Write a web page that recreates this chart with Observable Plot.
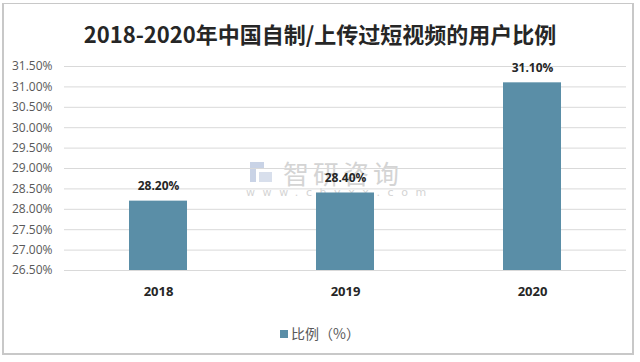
<!DOCTYPE html>
<html>
<head>
<meta charset="utf-8">
<script src="https://cdn.jsdelivr.net/npm/d3@7"></script>
<script src="https://cdn.jsdelivr.net/npm/@observablehq/plot@0.6"></script>
<style>
  body { margin: 0; background: #fff; }
  #wrap { position: relative; width: 640px; height: 362px; overflow: hidden; font-family: "Noto Sans CJK SC", "Noto Sans", sans-serif; }
  #border { position: absolute; left: 2px; top: 3px; width: 632px; height: 352px; border: 2px solid #c8c8c8; box-sizing: border-box; border-width: 1px 2px 2px 2px; }
  #title { position: absolute; left: 0; top: 16px; width: 640px; text-align: center; font-size: 22px; font-weight: bold; color: #262626; line-height: 34px; }
  #chart { position: absolute; left: 0; top: 50px; z-index: 2; }
  #legend { position: absolute; left: 0; top: 322px; width: 640px; text-align: center; font-size: 14px; color: #595959; line-height: 22px; }
  #legend .sw { display: inline-block; width: 8px; height: 8px; background: #5a8ea7; margin-right: 3px; vertical-align: 1px; }
  #wm1 { position: absolute; left: 283px; top: 154px; font-size: 26px; color: #d4d4d4; letter-spacing: 4px; font-family: "Noto Sans CJK SC"; z-index: 1; }
  #wm2 { position: absolute; left: 246px; top: 186px; font-size: 11px; color: #d4d4d4; letter-spacing: 7.6px; font-family: "DejaVu Sans"; z-index: 1; }
  #wmicon { position: absolute; left: 248px; top: 160px; width: 26px; height: 24px; z-index: 1; }
</style>
</head>
<body>
<div id="wrap">
  <div id="border"></div>
  <div id="title">2018-2020年中国自制/上传过短视频的用户比例</div>
  <div id="wm1">智研咨询</div>
  <div id="wm2">www.chyxx.com</div>
  <div id="chart"></div>
  <div id="legend"><span class="sw"></span>比例（%）</div>
</div>
<script>
const years = ["2018", "2019", "2020"];
const values = [28.2, 28.4, 31.1];
const yTicks = [26.5, 27, 27.5, 28, 28.5, 29, 29.5, 30, 30.5, 31, 31.5];
const yMin = 26.5;
const yMax = 31.5;

const data = years.map((y, i) => ({year: y, value: values[i]}));
const fmt = d => d.toFixed(2) + "%";

const chart = Plot.plot({
  width: 640,
  height: 265,
  marginTop: 16,
  marginBottom: 45,
  marginLeft: 64,
  marginRight: 14,
  style: {fontFamily: "'Open Sans', 'Noto Sans', sans-serif", background: "transparent"},
  x: {domain: years, paddingInner: 0.69, paddingOuter: 0.34, label: null},
  y: {domain: [yMin, yMax], label: null},
  marks: [
    Plot.ruleY(yTicks, {stroke: "#d9d9d9", strokeWidth: 1}),
    Plot.barY(data, {x: "year", y1: () => yMin, y2: "value", fill: "#5a8ea7"}),
    Plot.text(data, {x: "year", y: "value", text: d => fmt(d.value), dy: -15, fontWeight: "bold", fontSize: 12, fill: "#262626"}),
    Plot.axisY(yTicks, {tickSize: 0, tickPadding: 12, tickFormat: fmt, fontSize: 12, fill: "#595959"}),
    Plot.axisX({tickSize: 0, tickPadding: 16, fontSize: 13, fontWeight: "bold", fill: "#262626"})
  ]
});
document.getElementById("chart").appendChild(chart);

// watermark icon
const ic = d3.select("#wrap").insert("svg", "#chart").attr("id", "wmicon").attr("width", 26).attr("height", 24);
ic.append("path").attr("d", "M2 2 H16 V9 H8 V22 H2 Z").attr("fill", "#c9d3e6");
ic.append("path").attr("d", "M11 12 H24 V22 H11 Z").attr("fill", "#d8dfec");
</script>
</body>
</html>
